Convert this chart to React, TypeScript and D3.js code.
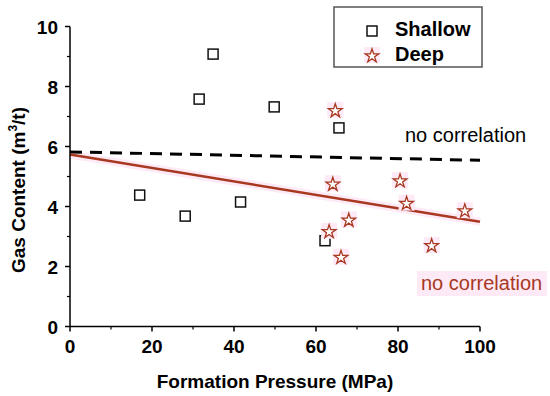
import { scaleLinear, line, symbol, symbolStar, range } from 'd3'

const shallowPressure = [17, 28.1, 31.5, 34.9, 41.6, 49.8, 62.2, 65.6]
const shallowGas = [4.38, 3.68, 7.58, 9.08, 4.15, 7.32, 2.86, 6.62]

const deepPressure = [64.7, 64.1, 80.5, 82.1, 68.0, 63.2, 66.1, 88.2, 96.3]
const deepGas = [7.22, 4.77, 4.88, 4.13, 3.57, 3.19, 2.33, 2.72, 3.88]

const fitPressure = [0, 100]
const shallowFit = [5.82, 5.54]
const deepFit = [5.73, 3.49]

const xTicks = [0, 20, 40, 60, 80, 100]
const yTicks = [0, 2, 4, 6, 8, 10]

const FONT = '"Liberation Sans", Arial, sans-serif'
const RED = '#a8381f'
const PINK = '#fdeaf6'

export default function App() {
  const width = 550
  const height = 396
  const x = scaleLinear([0, 100], [70, 480])
  const y = scaleLinear([0, 10], [326.5, 26.5])

  const fitLine = (vals: number[]) =>
    line<number>()
      .x((_, i) => x(fitPressure[i]))
      .y(d => y(d))(vals) as string

  const star = symbol(symbolStar, 58)() as string

  const xMinor = range(10, 100, 20)
  const yMinor = range(1, 10, 2)

  return (
    <svg
      width={width}
      height={height}
      style={{ position: 'fixed', top: 0, left: 0, background: '#fff' }}
      fontFamily={FONT}
    >
      {/* pink highlight behind the deep fit */}
      <path d={fitLine(deepFit)} stroke={PINK} strokeWidth={8} fill='none' />

      {/* fit lines */}
      <path d={fitLine(shallowFit)} stroke='#000' strokeWidth={3} strokeDasharray='12 8' fill='none' />
      <path d={fitLine(deepFit)} stroke={RED} strokeWidth={2.5} fill='none' />

      {/* shallow squares */}
      {shallowPressure.map((p, i) => (
        <rect
          key={'s' + i}
          x={x(p) - 5}
          y={y(shallowGas[i]) - 5}
          width={10}
          height={10}
          fill='#fff'
          stroke='#111'
          strokeWidth={1.5}
        />
      ))}

      {/* deep stars */}
      {deepPressure.map((p, i) => (
        <g key={'d' + i} transform={`translate(${x(p)},${y(deepGas[i]) + 1})`}>
          <rect x={-8} y={-9} width={16} height={16} fill={PINK} />
          <path d={star} fill='#fff' stroke={RED} strokeWidth={1.3} />
        </g>
      ))}

      {/* axes */}
      <line x1={x(0)} x2={x(100)} y1={y(0)} y2={y(0)} stroke='#000' strokeWidth={1.5} />
      <line x1={x(0)} x2={x(0)} y1={y(0)} y2={y(10)} stroke='#000' strokeWidth={1.5} />
      {xTicks.map(t => (
        <g key={'xt' + t}>
          <line x1={x(t)} x2={x(t)} y1={y(0)} y2={y(0) + 5} stroke='#000' strokeWidth={1.5} />
          <text x={x(t)} y={353} textAnchor='middle' fontSize={19} fontWeight='bold'>
            {t}
          </text>
        </g>
      ))}
      {xMinor.map(t => (
        <line key={'xm' + t} x1={x(t)} x2={x(t)} y1={y(0)} y2={y(0) + 3} stroke='#000' strokeWidth={1.2} />
      ))}
      {yTicks.map(t => (
        <g key={'yt' + t}>
          <line x1={x(0) - 5} x2={x(0)} y1={y(t)} y2={y(t)} stroke='#000' strokeWidth={1.5} />
          <text x={58} y={y(t) + 7} textAnchor='end' fontSize={19} fontWeight='bold'>
            {t}
          </text>
        </g>
      ))}
      {yMinor.map(t => (
        <line key={'ym' + t} x1={x(0) - 3} x2={x(0)} y1={y(t)} y2={y(t)} stroke='#000' strokeWidth={1.2} />
      ))}

      {/* axis titles */}
      <text x={275} y={388} textAnchor='middle' fontSize={19} fontWeight='bold'>
        Formation Pressure (MPa)
      </text>
      <text
        transform='translate(25,190) rotate(-90)'
        textAnchor='middle'
        fontSize={19}
        fontWeight='bold'
      >
        Gas Content (m
        <tspan fontSize={12} dy={-8}>3</tspan>
        <tspan dy={8}>/t)</tspan>
      </text>

      {/* legend */}
      <rect x={334} y={7} width={148} height={60} fill='#fff' stroke='#555' strokeWidth={1.5} />
      <rect x={367} y={26} width={10} height={10} fill='#fff' stroke='#111' strokeWidth={1.5} />
      <text x={395} y={36} fontSize={20} fontWeight='bold'>Shallow</text>
      <rect x={364} y={47} width={16} height={16} fill={PINK} />
      <path d={star} transform='translate(372,56)' fill='#fff' stroke={RED} strokeWidth={1.3} />
      <text x={395} y={61} fontSize={20} fontWeight='bold'>Deep</text>

      {/* annotations */}
      <text x={405} y={142} fontSize={20}>no correlation</text>
      <rect x={417} y={271} width={130} height={25} fill={PINK} />
      <text x={421} y={290} fontSize={20} fill={RED}>no correlation</text>
    </svg>
  )
}
